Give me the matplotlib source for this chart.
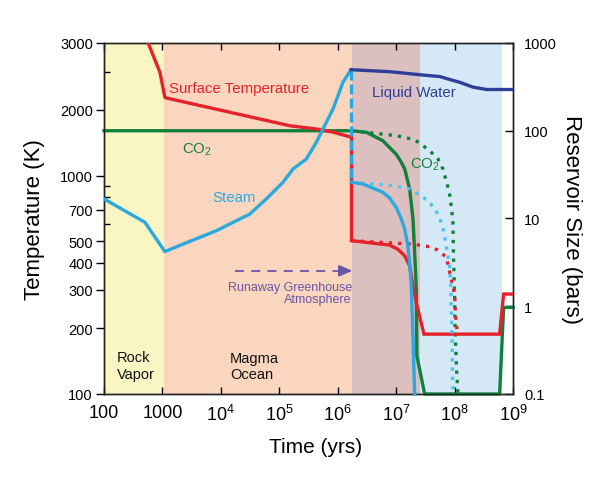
import matplotlib
matplotlib.use("Agg")
import matplotlib.pyplot as plt
from matplotlib.ticker import FixedLocator, FixedFormatter, NullLocator

plt.rcParams['font.family'] = ['Liberation Sans', 'DejaVu Sans']
plt.rcParams['mathtext.fontset'] = 'custom'
plt.rcParams['mathtext.rm'] = 'Liberation Sans'
plt.rcParams['mathtext.it'] = 'Liberation Sans'

# ---------------- data ----------------
# Surface temperature (K), solid
temp_time = [570, 906, 1100, 1170, 1.51e5, 4.3e5, 8.2e5, 1.72e6, 1.72e6, 7.7e6, 1.06e7, 1.4e7,
             1.7e7, 1.94e7, 2.24e7, 2.99e7, 5.9e8, 6.9e8, 1e9]
temp_K = [4050, 2976, 2287, 2270, 1694, 1636, 1585, 1500, 504, 481, 461, 430,
          387, 313, 258, 188, 188, 287, 287]
# Surface temperature (K), dotted alternative
tempd_time = [1.72e6, 1.9e7, 3.7e7, 5.1e7, 7.2e7, 1e8, 1.04e8, 1.12e8]
tempd_K = [504, 486, 473, 457, 424, 287, 228, 188]

# Steam reservoir (bars)
steam_time = [100, 502, 1100, 2270, 8430, 2.11e4, 3.1e4, 6.0e4, 1.16e5, 1.72e5, 2.9e5,
              4.3e5, 5.6e5, 8.3e5, 1.23e6, 1.68e6]
steam_bars = [16.7, 9.05, 4.19, 5.12, 7.26, 9.87, 11.2, 16.7, 25.9, 36.7, 47.6,
              73.9, 105, 177, 357, 496]
steam_drop_time = [1.72e6, 1.72e6]
steam_drop_bars = [496, 25.9]
steam2_time = [1.72e6, 2.7e6, 5.9e6, 7.74e6, 1.0e7, 1.19e7, 1.4e7, 1.57e7, 1.7e7, 1.82e7,
               1.92e7, 2.07e7]
steam2_bars = [25.9, 24.7, 19.9, 17.1, 13.4, 10.4, 7.6, 5.1, 3.17, 1.57, 0.55, 0.1]
steamd_time = [1.72e6, 8.8e6, 1.7e7, 2.36e7, 3.3e7, 4.55e7, 5.5e7, 6.3e7, 7.2e7,
               8.2e7, 8.55e7, 8.8e7, 9.1e7, 9.25e7, 9.6e7]
steamd_bars = [25.9, 23.7, 21.7, 19.0, 16.4, 13.1, 10.3, 7.9, 4.9,
               2.9, 1.79, 0.86, 0.355, 0.142, 0.1]

# CO2 reservoir (bars)
co2_time = [100, 1.72e6, 3.1e6, 5.9e6, 1.0e7, 1.19e7, 1.4e7, 1.7e7, 1.94e7, 2.07e7, 2.21e7,
            2.26e7, 3.07e7, 5.9e8, 6.9e8, 1e9]
co2_bars = [100, 100, 96, 77, 54, 45.2, 36.7, 21.7, 9.9, 4.15, 1.57,
            0.273, 0.1, 0.1, 0.97, 0.97]
co2d_time = [1.72e6, 1e7, 2.07e7, 2.87e7, 3.74e7, 5.2e7, 6.3e7, 7.2e7, 8.2e7, 8.9e7,
             9.35e7, 9.6e7, 1e8, 1.02e8, 1.08e8, 1.14e8]
co2d_bars = [100, 87.9, 79, 67.6, 59.3, 47.6, 36.7, 27, 19, 12.8,
             9.4, 3.45, 1.38, 0.55, 0.193, 0.1]

# Liquid water reservoir (bars)
water_time = [1.71e6, 7.7e6, 3.74e7, 5.55e7, 8.2e7, 1.22e8, 2.03e8, 3.52e8, 1e9]
water_bars = [496, 471, 424, 415, 384, 357, 315, 295, 295]

# Phase bands (time)
band_edges = [100, 1070, 1.74e6, 2.57e7, 6.5e8]
band_colors = ['#f9f6c4', '#fad6bf', '#dcbfbf', '#d5e8f6']

xtick_vals = [1e2, 1e3, 1e4, 1e5, 1e6, 1e7, 1e8, 1e9]
xtick_labels = ['100', '1000', '$10^4$', '$10^5$', '$10^6$', '$10^7$', '$10^8$', '$10^9$']
ltick_vals = [100, 200, 300, 400, 500, 700, 1000, 2000, 4055]
ltick_labels = ['100', '200', '300', '400', '500', '700', '1000', '2000', '3000']
lminor_vals = [600, 800, 900, 3000]
rtick_vals = [0.1, 1, 10, 100, 1000]
rtick_labels = ['0.1', '1', '10', '100', '1000']

RED = '#e42229'
GREEN = '#12803d'
STEAM = '#2aa9e0'
WATER = '#2f3f98'
PURPLE = '#6a55a8'

fig = plt.figure(figsize=(6.09, 4.85), dpi=100)
ax = fig.add_axes([0.1708, 0.1856, 0.6716, 0.7237])
ax.set_xscale('log')
ax.set_yscale('log')
ax.set_xlim(100, 1e9)
ax.set_ylim(100, 4055)

for i, c in enumerate(band_colors):
    ax.axvspan(band_edges[i], band_edges[i + 1], color=c, lw=0, zorder=0)

ax2 = ax.twinx()
ax2.set_yscale('log')
ax2.set_ylim(0.1, 1000)

LW = 2.4
DOT = (0, (1, 1.8))

# CO2
ax2.plot(co2d_time, co2d_bars, color=GREEN, lw=LW, ls=DOT, zorder=2, clip_on=False)
ax2.plot(co2_time, co2_bars, color=GREEN, lw=LW, zorder=2, clip_on=False)
# temperature (left-axis data)
ax2.plot(tempd_time, tempd_K, color=RED, lw=LW, ls=DOT, zorder=3, transform=ax.transData)
ax2.plot(temp_time, temp_K, color=RED, lw=LW, zorder=3, transform=ax.transData,
         solid_joinstyle='miter')
# steam
ax2.plot(steamd_time, steamd_bars, color='#4cc3f0', lw=LW, ls=DOT, zorder=4, clip_on=False)
ax2.plot(steam_time, steam_bars, color=STEAM, lw=LW, zorder=4)
ax2.plot(steam_drop_time, steam_drop_bars, color=STEAM, lw=LW, ls=(0, (3, 1.2)), zorder=4)
ax2.plot(steam2_time, steam2_bars, color=STEAM, lw=LW, zorder=4, clip_on=False)
# liquid water
ax2.plot(water_time, water_bars, color=WATER, lw=LW, zorder=5)

# ticks
ax.xaxis.set_major_locator(FixedLocator(xtick_vals))
ax.xaxis.set_major_formatter(FixedFormatter(xtick_labels))
ax.xaxis.set_minor_locator(NullLocator())
ax.tick_params(axis='x', which='major', direction='in', top=True, bottom=True,
               length=5, width=1, labelsize=13, pad=7)
ax.yaxis.set_major_locator(FixedLocator(ltick_vals))
ax.yaxis.set_major_formatter(FixedFormatter(ltick_labels))
ax.yaxis.set_minor_locator(FixedLocator(lminor_vals))
ax.tick_params(axis='y', which='major', direction='out', length=6, width=1,
               labelsize=10.5, pad=2)
ax.tick_params(axis='y', which='minor', direction='in', length=4, width=1)
ax2.yaxis.set_major_locator(FixedLocator(rtick_vals))
ax2.yaxis.set_major_formatter(FixedFormatter(rtick_labels))
ax2.yaxis.set_minor_locator(NullLocator())
ax2.tick_params(axis='y', which='major', direction='in', length=6, width=1,
                labelsize=10.5, pad=8)

for a in (ax, ax2):
    for s in a.spines.values():
        s.set_linewidth(1.0)
        s.set_color('#222222')

ax.set_ylabel('Temperature (K)', fontsize=16, va='center')
ax.yaxis.set_label_coords(-0.171, 0.5)
ax2.set_ylabel('Reservoir Size (bars)', fontsize=16, rotation=270, va='center')
ax2.yaxis.set_label_coords(1.142, 0.5)
ax.set_xlabel('Time (yrs)', fontsize=15, va='center')
ax.xaxis.set_label_coords(0.517, -0.151)

T = ax2.transAxes
ax2.text(0.159, 0.859, 'Surface Temperature', color=RED, fontsize=10.8, transform=T, va='baseline')
ax2.text(0.654, 0.850, 'Liquid Water', color=WATER, fontsize=10.8, transform=T, va='baseline')
ax2.text(0.190, 0.689, 'CO$_2$', color=GREEN, fontsize=10.8, transform=T, va='baseline')
ax2.text(0.748, 0.644, 'CO$_2$', color=GREEN, fontsize=10.8, transform=T, va='baseline')
ax2.text(0.265, 0.549, 'Steam', color=STEAM, fontsize=10.8, transform=T, va='baseline')
ax2.text(0.031, 0.095, 'Rock', color='#111111', fontsize=10.5, transform=T, va='baseline')
ax2.text(0.031, 0.045, 'Vapor', color='#111111', fontsize=10.5, transform=T, va='baseline')
ax2.text(0.308, 0.092, 'Magma', color='#111111', fontsize=10.5, transform=T, va='baseline')
ax2.text(0.308, 0.045, 'Ocean', color='#111111', fontsize=10.5, transform=T, va='baseline')
ax2.text(0.606, 0.297, 'Runaway Greenhouse', color=PURPLE, fontsize=9, transform=T,
         va='baseline', ha='right')
ax2.text(0.606, 0.261, 'Atmosphere', color=PURPLE, fontsize=9, transform=T,
         va='baseline', ha='right')
# dashed arrow
ax2.plot([0.320, 0.585], [0.351, 0.351], color=PURPLE, lw=1.3, ls=(0, (5, 4)),
         transform=T, zorder=6)
ax2.annotate('', xy=(0.607, 0.351), xytext=(0.575, 0.351), xycoords=T, textcoords=T,
             arrowprops=dict(arrowstyle='-|>,head_length=0.8,head_width=0.35',
                             color=PURPLE, lw=1.3, shrinkA=0, shrinkB=0))

fig.savefig('out.png', dpi=100)
